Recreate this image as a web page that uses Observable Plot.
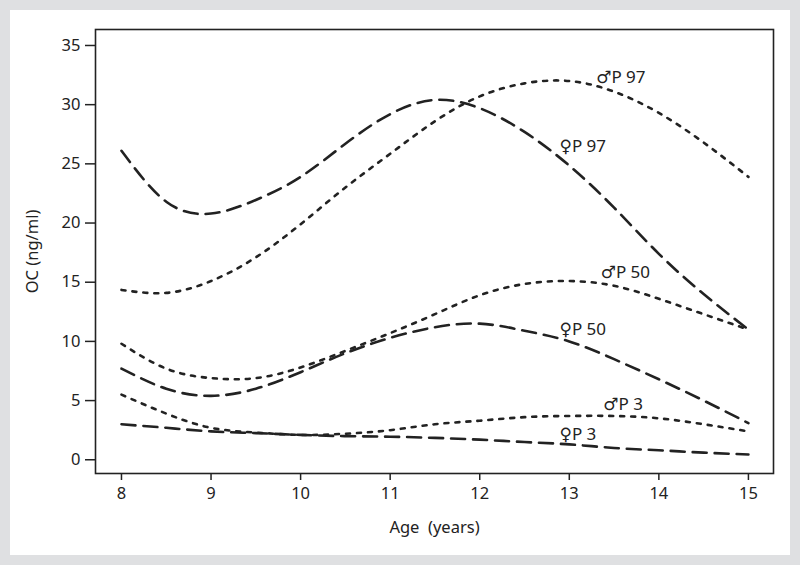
<!DOCTYPE html>
<html><head><meta charset="utf-8">
<script src="https://cdn.jsdelivr.net/npm/d3@7"></script>
<script src="https://cdn.jsdelivr.net/npm/@observablehq/plot@0.6"></script>
<style>
body{margin:0;background:#dfe0e2;}
#wrap{position:relative;width:800px;height:565px;background:#dfe0e2;overflow:hidden;}
#panel{position:absolute;left:10px;top:10px;width:780px;height:545px;background:#fff;}
#chart{position:absolute;left:0;top:0;}
</style></head><body>
<div id="wrap"><div id="panel"></div><div id="chart"></div></div>
<script>
const ages = [8, 8.5, 9, 9.5, 10, 10.5, 11, 11.5, 12, 12.5, 13, 13.5, 14, 14.5, 15];
const maleP97   = [14.35, 14.1, 15.1, 17.1, 19.9, 23.0, 25.85, 28.6, 30.7, 31.8, 32.0, 31.1, 29.3, 26.8, 23.9];
const femaleP97 = [26.1, 21.8, 20.8, 21.95, 23.9, 26.7, 29.2, 30.4, 29.7, 27.7, 24.85, 21.3, 17.4, 14.0, 11.0];
const maleP50   = [9.8, 7.7, 6.9, 6.9, 7.8, 9.2, 10.7, 12.3, 13.9, 14.85, 15.1, 14.7, 13.6, 12.3, 11.0];
const femaleP50 = [7.7, 6.0, 5.4, 6.0, 7.4, 9.0, 10.3, 11.2, 11.5, 10.9, 10.0, 8.5, 6.8, 5.0, 3.1];
const maleP3    = [5.5, 3.9, 2.7, 2.3, 2.1, 2.2, 2.5, 3.0, 3.3, 3.6, 3.7, 3.7, 3.5, 3.0, 2.4];
const femaleP3  = [3.0, 2.7, 2.4, 2.25, 2.1, 2.0, 1.95, 1.85, 1.7, 1.5, 1.3, 1.0, 0.8, 0.6, 0.45];

const seriesNames = ["♂P 97", "♀P 97", "♂P 50", "♀P 50", "♂P 3", "♀P 3"];
const seriesSex   = ["m", "f", "m", "f", "m", "f"];
const seriesVals  = [maleP97, femaleP97, maleP50, femaleP50, maleP3, femaleP3];
// label anchor positions (age, OC)
const labelAge = [13.30, 12.89, 13.35, 12.89, 13.38, 12.89];
const labelOC  = [32.3, 26.5, 15.8, 11.0, 4.65, 2.1];

const xTicks = [8, 9, 10, 11, 12, 13, 14, 15];
const yTicks = [0, 5, 10, 15, 20, 25, 30, 35];

const rows = [];
seriesNames.forEach((s, i) => ages.forEach((a, j) => rows.push({series: s, sex: seriesSex[i], age: a, oc: seriesVals[i][j]})));
const labels = seriesNames.map((s, i) => ({label: s, age: labelAge[i], oc: labelOC[i]}));

const ink = "#222";
const chart = Plot.plot({
  width: 800, height: 565,
  marginLeft: 95, marginRight: 27, marginTop: 29, marginBottom: 92,
  style: {background: "transparent", fontFamily: "'Noto Sans', 'DejaVu Sans', sans-serif", fontSize: "16.5px", color: ink},
  x: {domain: [7.71, 15.28]},
  y: {domain: [-1.16, 36.35]},
  marks: [
    Plot.frame({stroke: ink, strokeWidth: 1.6}),
    Plot.axisX(xTicks, {tickSize: 7, tickPadding: 7, strokeWidth: 1.5, label: "Age  (years)", labelAnchor: "center", labelArrow: "none", labelOffset: 59, fontSize: 16.5}),
    Plot.axisY(yTicks, {tickSize: 10, tickPadding: 5, strokeWidth: 1.5, label: "OC (ng/ml)", labelAnchor: "center", labelArrow: "none", labelOffset: 69, fontSize: 16.5}),
    Plot.line(rows.filter(d => d.sex === "f"), {x: "age", y: "oc", z: "series", curve: "natural", stroke: ink, strokeWidth: 2.6, strokeDasharray: "14,8"}),
    Plot.line(rows.filter(d => d.sex === "m"), {x: "age", y: "oc", z: "series", curve: "natural", stroke: ink, strokeWidth: 2.6, strokeDasharray: "4,7"}),
    Plot.text(labels, {x: "age", y: "oc", text: "label", textAnchor: "start", fill: ink, fontSize: 17})
  ]
});
document.getElementById("chart").appendChild(chart);
</script>
</body></html>
